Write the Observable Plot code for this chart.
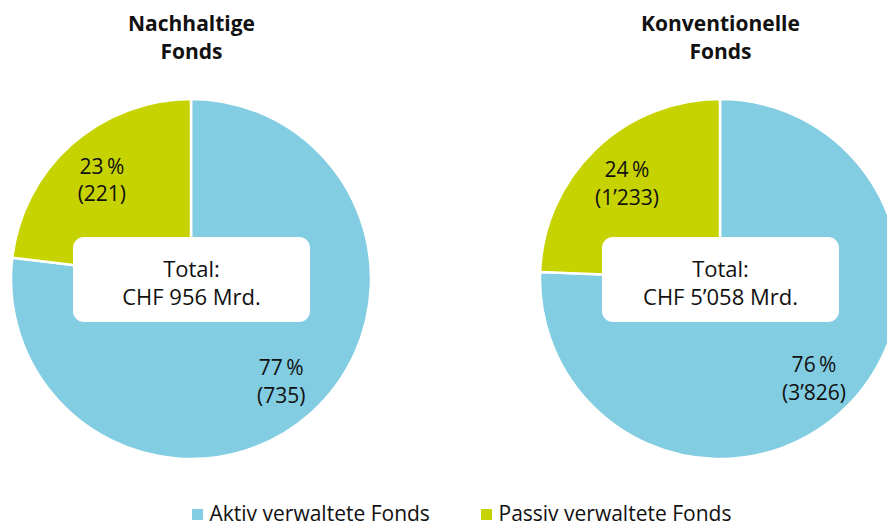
<!DOCTYPE html>
<html><head><meta charset="utf-8">
<script src="https://cdn.jsdelivr.net/npm/d3@7"></script>
<script src="https://cdn.jsdelivr.net/npm/@observablehq/plot@0.6"></script>
<style>html,body{margin:0;padding:0;background:#fff;overflow:hidden}</style>
</head><body><div id="chart"></div>
<script>
// ---- data ----
const funds = ["Nachhaltige\nFonds", "Konventionelle\nFonds"];
const types = ["Aktiv verwaltete Fonds", "Passiv verwaltete Fonds"];
const aktiv = [735, 3826];
const passiv = [221, 1233];
const totals = [956, 5058];
const palette = ["#83cde2", "#c7d300"];

// ---- layout ----
const W = 887, H = 527, R = 180, CY = 279, LABEL_R = 135;
const centers = [191, 720];
const legendX = [192, 481];
const FONT = '"Open Sans", "Noto Sans", sans-serif';
const fmt = d3.formatLocale({decimal: ".", thousands: "\u2019", grouping: [3], currency: ["", ""]}).format(",d");

const slices = [];
const labels = [];
funds.forEach((f, i) => {
  const vals = [aktiv[i], passiv[i]];
  const arcs = d3.pie().sort(null)(vals);
  const sum = d3.sum(vals);
  arcs.forEach((a, j) => {
    slices.push({fund: f, type: types[j], cx: centers[i], cy: CY, start: a.startAngle, end: a.endAngle});
    const mid = (a.startAngle + a.endAngle) / 2;
    labels.push({
      x: centers[i] + LABEL_R * Math.sin(mid),
      y: CY - LABEL_R * Math.cos(mid),
      text: `${Math.round(vals[j] / sum * 100)}\u2009%\n(${fmt(vals[j])})`
    });
  });
});

function pieMark(index, scales) {
  const g = d3.create("svg:g");
  const arc = d3.arc().innerRadius(0).outerRadius(R);
  g.selectAll("path").data(slices).join("path")
    .attr("transform", d => `translate(${scales.x(d.cx)},${scales.y(d.cy)})`)
    .attr("d", d => arc({startAngle: d.start, endAngle: d.end}))
    .attr("fill", d => scales.color(d.type))
    .attr("stroke", "white").attr("stroke-width", 2.5).attr("stroke-linejoin", "round");
  return g.node();
}

const chart = Plot.plot({
  width: W, height: H, margin: 0,
  style: {fontFamily: FONT, background: "white", overflow: "hidden"},
  x: {type: "linear", domain: [0, W], range: [0, W], axis: null},
  y: {type: "linear", domain: [0, H], range: [0, H], axis: null},
  color: {domain: types, range: palette},
  marks: [
    pieMark,
    Plot.rect(totals, {x1: (d, i) => centers[i] - 118, x2: (d, i) => centers[i] + 119, y1: 237, y2: 322, fill: "white", rx: 11}),
    Plot.text(totals, {x: (d, i) => centers[i], y: 282, text: d => `Total:\nCHF ${fmt(d)} Mrd.`, fontSize: 22, lineHeight: 1.27, fill: "#111"}),
    Plot.text(funds, {x: (d, i) => centers[i], y: 36, text: d => d, fontSize: 21, fontWeight: "bold", lineHeight: 1.33, fill: "#111"}),
    Plot.text(labels, {x: "x", y: "y", text: "text", fontSize: 21, lineHeight: 1.33, fill: "#111"}),
    Plot.rect(types, {x1: (d, i) => legendX[i], x2: (d, i) => legendX[i] + 11, y1: 509, y2: 520, fill: d => d}),
    Plot.text(types, {x: (d, i) => legendX[i] + 17, y: 514, text: d => d, textAnchor: "start", fontSize: 21, fill: "#111"})
  ]
});
document.getElementById("chart").appendChild(chart);
</script>
</body></html>
